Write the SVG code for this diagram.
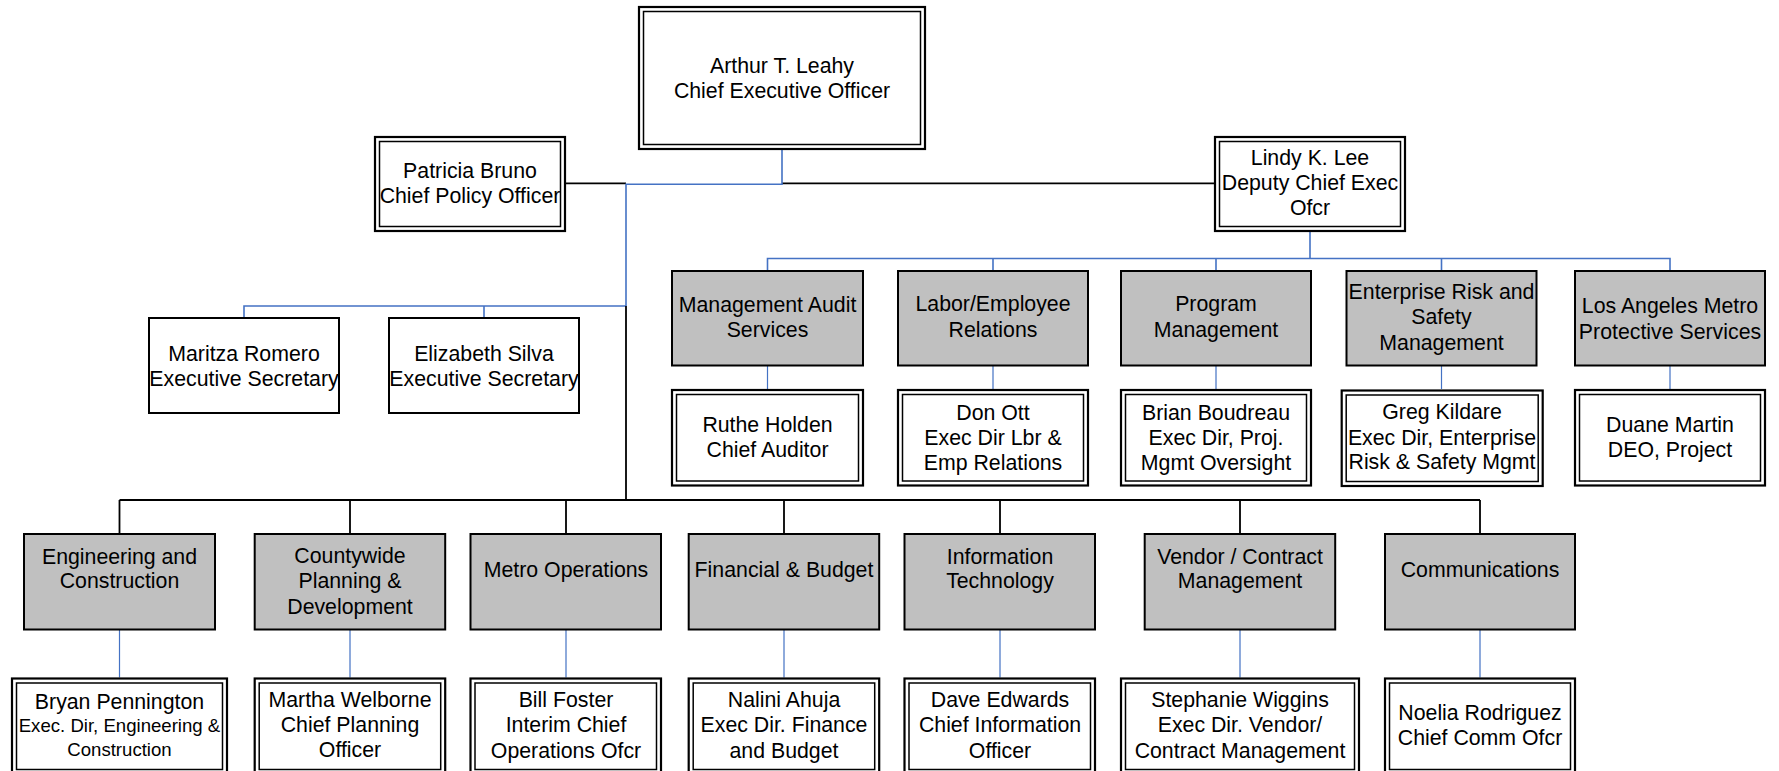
<svg xmlns="http://www.w3.org/2000/svg" width="1779" height="771" viewBox="0 0 1779 771">
<style>
text{font-family:"Liberation Sans",Arial,sans-serif;font-size:21.3px;fill:#000;text-anchor:middle}
.sm{font-size:18.6px}
.o{fill:#fff;stroke:#000;stroke-width:2.2}
.i{fill:none;stroke:#000;stroke-width:1.5}
.s{fill:#fff;stroke:#000;stroke-width:2}
.g{fill:#c0c0c0;stroke:#000;stroke-width:2}
.b{fill:none;stroke:#4472c4;stroke-width:1.6}
.bt{fill:none;stroke:#4472c4;stroke-width:1.2}
.k{fill:none;stroke:#000;stroke-width:1.8}
</style>
<rect width="1779" height="771" fill="#fff"/>
<g id="connectors">
<path class="k" d="M566 183.3H626M782 183.3H1214"/>
<path class="b" d="M782 150V184.3H626V306"/>
<path class="b" d="M244 317V306H626M484 306V317"/>
<path class="k" d="M626 306V500"/>
<path class="k" d="M119.5 500H1480M119.5 500V533M350 500V533M566 500V533M784 500V533M1000 500V533M1240 500V533M1480 500V533"/>
<path class="bt" d="M119.5 630V677.5M350 630V677.5M566 630V677.5M784 630V677.5M1000 630V677.5M1240 630V677.5M1480 630V677.5"/>
<path class="b" d="M1310 232V258.5M767.5 270V258.5H1670V270M993 258.5V270M1216 258.5V270M1441.5 258.5V270"/>
<path class="bt" d="M767.5 366V389M993 366V389M1216 366V389M1441.5 366V389M1670 366V389"/>
</g>
<g id="arthur"><rect class="o" x="639" y="7" width="286" height="142"/><rect class="i" x="643.5" y="11.5" width="277" height="133"/><text x="782" y="72.5">Arthur T. Leahy</text><text x="782" y="97.5">Chief Executive Officer</text></g>
<g id="patricia"><rect class="o" x="375" y="137" width="190" height="94"/><rect class="i" x="379.5" y="141.5" width="181" height="85"/><text x="470" y="178.3">Patricia Bruno</text><text x="470" y="203.3">Chief Policy Officer</text></g>
<g id="lindy"><rect class="o" x="1215" y="137" width="190" height="94"/><rect class="i" x="1219.5" y="141.5" width="181" height="85"/><text x="1310" y="165.3">Lindy K. Lee</text><text x="1310" y="190.3">Deputy Chief Exec</text><text x="1310" y="215.3">Ofcr</text></g>
<g id="maritza"><rect class="s" x="149" y="318" width="190" height="95"/><text x="244" y="360.6">Maritza Romero</text><text x="244" y="385.6">Executive Secretary</text></g>
<g id="elizabeth"><rect class="s" x="389" y="318" width="190" height="95"/><text x="484" y="360.6">Elizabeth Silva</text><text x="484" y="385.6">Executive Secretary</text></g>
<g id="mgmt-audit"><rect class="g" x="672" y="271" width="191" height="94.5"/><text x="767.5" y="312.3">Management Audit</text><text x="767.5" y="337.3">Services</text></g>
<g id="labor"><rect class="g" x="898" y="271" width="190" height="94.5"/><text x="993" y="311">Labor/Employee</text><text x="993" y="336.5">Relations</text></g>
<g id="program"><rect class="g" x="1121" y="271" width="190" height="94.5"/><text x="1216" y="311">Program</text><text x="1216" y="336.5">Management</text></g>
<g id="enterprise"><rect class="g" x="1346.5" y="271" width="190" height="94.5"/><text x="1441.5" y="299">Enterprise Risk and</text><text x="1441.5" y="324">Safety</text><text x="1441.5" y="350">Management</text></g>
<g id="lametro"><rect class="g" x="1575" y="271" width="190" height="94.5"/><text x="1670" y="313.3">Los Angeles Metro</text><text x="1670" y="339">Protective Services</text></g>
<g id="ruthe"><rect class="o" x="672" y="390" width="191" height="95.5"/><rect class="i" x="676.5" y="394.5" width="182" height="86.5"/><text x="767.5" y="432.3">Ruthe Holden</text><text x="767.5" y="457.3">Chief Auditor</text></g>
<g id="don"><rect class="o" x="898" y="390" width="190" height="95.5"/><rect class="i" x="902.5" y="394.5" width="181" height="86.5"/><text x="993" y="419.5">Don Ott</text><text x="993" y="444.5">Exec Dir Lbr &amp;</text><text x="993" y="469.5">Emp Relations</text></g>
<g id="brian"><rect class="o" x="1121" y="390" width="190" height="95.5"/><rect class="i" x="1125.5" y="394.5" width="181" height="86.5"/><text x="1216" y="419.5">Brian Boudreau</text><text x="1216" y="444.5">Exec Dir, Proj.</text><text x="1216" y="469.5">Mgmt Oversight</text></g>
<g id="greg"><rect class="o" x="1341.7" y="390.5" width="201" height="95.5"/><rect class="i" x="1346.2" y="395" width="192" height="86.5"/><text x="1442" y="419.3">Greg Kildare</text><text x="1442" y="444.5">Exec Dir, Enterprise</text><text x="1442" y="469">Risk &amp; Safety Mgmt</text></g>
<g id="duane"><rect class="o" x="1575" y="390" width="190" height="95.5"/><rect class="i" x="1579.5" y="394.5" width="181" height="86.5"/><text x="1670" y="432.3">Duane Martin</text><text x="1670" y="457.3">DEO, Project</text></g>
<g id="engineering"><rect class="g" x="24" y="534" width="191" height="95.5"/><text x="119.5" y="564">Engineering and</text><text x="119.5" y="588">Construction</text></g>
<g id="countywide"><rect class="g" x="254.7" y="534" width="190.5" height="95.5"/><text x="350" y="563.3">Countywide</text><text x="350" y="588.3">Planning &amp;</text><text x="350" y="614">Development</text></g>
<g id="metro-ops"><rect class="g" x="470.5" y="534" width="190.5" height="95.5"/><text x="566" y="576.6">Metro Operations</text></g>
<g id="financial"><rect class="g" x="688.7" y="534" width="190.5" height="95.5"/><text x="784" y="576.6">Financial &amp; Budget</text></g>
<g id="it"><rect class="g" x="904.5" y="534" width="190.5" height="95.5"/><text x="1000" y="564">Information</text><text x="1000" y="588">Technology</text></g>
<g id="vendor"><rect class="g" x="1144.7" y="534" width="190.5" height="95.5"/><text x="1240" y="564">Vendor / Contract</text><text x="1240" y="588">Management</text></g>
<g id="comms"><rect class="g" x="1385" y="534" width="190" height="95.5"/><text x="1480" y="576.6">Communications</text></g>
<g id="bryan"><rect class="o" x="12" y="678.5" width="215" height="95"/><rect class="i" x="16.5" y="683" width="206" height="86.5"/><text x="119.5" y="709">Bryan Pennington</text><text class="sm" x="119.5" y="732.3">Exec. Dir, Engineering &amp;</text><text class="sm" x="119.5" y="755.6">Construction</text></g>
<g id="martha"><rect class="o" x="254.7" y="678.5" width="190.5" height="95"/><rect class="i" x="259.2" y="683" width="181.5" height="86.5"/><text x="350" y="707.3">Martha Welborne</text><text x="350" y="731.8">Chief Planning</text><text x="350" y="756.5">Officer</text></g>
<g id="bill"><rect class="o" x="470.5" y="678.5" width="190.5" height="95"/><rect class="i" x="475" y="683" width="181.5" height="86.5"/><text x="566" y="707.3">Bill Foster</text><text x="566" y="732.3">Interim Chief</text><text x="566" y="758">Operations Ofcr</text></g>
<g id="nalini"><rect class="o" x="688.7" y="678.5" width="190.5" height="95"/><rect class="i" x="693.2" y="683" width="181.5" height="86.5"/><text x="784" y="707.3">Nalini Ahuja</text><text x="784" y="732.3">Exec Dir. Finance</text><text x="784" y="758">and Budget</text></g>
<g id="dave"><rect class="o" x="904.5" y="678.5" width="190.5" height="95"/><rect class="i" x="909" y="683" width="181.5" height="86.5"/><text x="1000" y="707.3">Dave Edwards</text><text x="1000" y="732.3">Chief Information</text><text x="1000" y="758">Officer</text></g>
<g id="stephanie"><rect class="o" x="1121" y="678.5" width="238" height="95"/><rect class="i" x="1125.5" y="683" width="229" height="86.5"/><text x="1240" y="707.3">Stephanie Wiggins</text><text x="1240" y="732.3">Exec Dir. Vendor/</text><text x="1240" y="758">Contract Management</text></g>
<g id="noelia"><rect class="o" x="1385" y="678.5" width="190" height="95"/><rect class="i" x="1389.5" y="683" width="181" height="86.5"/><text x="1480" y="720">Noelia Rodriguez</text><text x="1480" y="745">Chief Comm Ofcr</text></g>
</svg>
